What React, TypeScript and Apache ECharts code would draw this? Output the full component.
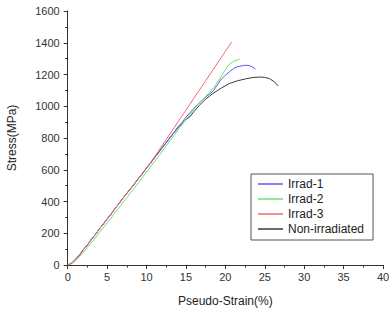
import React, { useEffect, useRef } from "react";
import * as echarts from "echarts";

const xTicks = [0, 5, 10, 15, 20, 25, 30, 35, 40];
const yTicks = [0, 200, 400, 600, 800, 1000, 1200, 1400, 1600];
const seriesNames = ["Irrad-1", "Irrad-2", "Irrad-3", "Non-irradiated"];
const seriesColors = ["#5b5bf0", "#6ee06e", "#f06a6a", "#3a3a3a"];

const irrad1: [number, number][] = [
  [0, 0], [0.5, 10], [1, 36], [1.5, 62], [2, 97], [2.5, 126], [3, 162], [3.5, 190], [4, 227], [4.5, 255],
  [5, 292], [5.5, 318], [6, 357], [6.5, 386], [7, 421], [7.5, 450], [8, 484], [8.5, 512], [9, 547], [9.5, 575],
  [10, 611], [10.5, 640], [11, 676], [11.5, 705], [12, 741], [12.5, 770], [13, 806], [13.5, 835], [14, 871],
  [14.5, 898], [15, 931], [15.5, 958], [16, 987], [16.5, 1012], [17, 1037], [17.5, 1058], [18, 1077],
  [18.5, 1098], [19, 1136], [19.5, 1172], [20, 1195], [20.5, 1216], [21, 1236], [21.5, 1248], [22, 1254],
  [22.5, 1258], [23, 1257], [23.5, 1246], [23.8, 1233],
];
const irrad2: [number, number][] = [
  [0, 0], [0.5, 8], [1, 26], [1.5, 52], [2, 80], [2.5, 110], [3, 140], [3.5, 170], [4, 204], [4.5, 233],
  [5, 266], [5.5, 296], [6, 330], [6.5, 360], [7, 394], [7.5, 424], [8, 456], [8.5, 488], [9, 520], [9.5, 553],
  [10, 586], [10.5, 617], [11, 651], [11.5, 682], [12, 716], [12.5, 750], [13, 785], [13.5, 816], [14, 850],
  [14.5, 883], [15, 916], [15.5, 948], [16, 981], [16.5, 1010], [17, 1036], [17.5, 1062], [18, 1086],
  [18.5, 1116], [19, 1151], [19.5, 1190], [20, 1230], [20.5, 1264], [21, 1282], [21.5, 1292], [21.8, 1296],
];
const irrad3: [number, number][] = [
  [0, 0], [0.5, 11], [1, 35], [1.5, 63], [2, 96], [2.5, 125], [3, 161], [3.5, 191], [4, 226], [4.5, 256],
  [5, 291], [5.5, 320], [6, 356], [6.5, 385], [7, 420], [7.5, 451], [8, 483], [8.5, 514], [9, 546], [9.5, 578],
  [10, 612], [10.5, 645], [11, 680], [11.5, 716], [12, 754], [12.5, 790], [13, 828], [13.5, 864], [14, 902],
  [14.5, 938], [15, 976], [15.5, 1012], [16, 1050], [16.5, 1086], [17, 1124], [17.5, 1160], [18, 1198],
  [18.5, 1234], [19, 1272], [19.5, 1308], [20, 1346], [20.5, 1382], [20.8, 1405],
];
const nonIrradiated: [number, number][] = [
  [0, 0], [0.5, 12], [1, 37], [1.5, 64], [2, 98], [2.5, 127], [3, 160], [3.5, 192], [4, 226], [4.5, 257],
  [5, 290], [5.5, 320], [6, 355], [6.5, 387], [7, 420], [7.5, 452], [8, 482], [8.5, 514], [9, 546], [9.5, 578],
  [10, 610], [10.5, 642], [11, 674], [11.5, 707], [12, 739], [12.5, 771], [13, 803], [13.5, 834], [14, 865],
  [14.5, 891], [15, 915], [15.5, 934], [16, 965], [16.7, 1006], [17.5, 1045], [18.4, 1080], [19.5, 1115],
  [20.5, 1143], [21.5, 1160], [22.7, 1174], [23.5, 1181], [24.3, 1184], [25, 1182], [25.6, 1174],
  [26.2, 1155], [26.7, 1128],
];
const seriesData = [irrad1, irrad2, irrad3, nonIrradiated];

const FONT = "'Liberation Sans', Arial, sans-serif";

export default function App() {
  const ref = useRef<HTMLDivElement>(null);
  useEffect(() => {
    if (!ref.current) return;
    const chart = echarts.init(ref.current, undefined, { renderer: "svg" });
    const axisCommon = {
      axisLine: { show: true, lineStyle: { color: "#333", width: 1 } },
      axisTick: { show: true, inside: false, length: 4, lineStyle: { color: "#333" } },
      minorTick: { show: true, splitNumber: 2, length: 2.5, lineStyle: { color: "#333" } },
      splitLine: { show: false },
      minorSplitLine: { show: false },
    };
    chart.setOption({
      animation: false,
      textStyle: { fontFamily: FONT },
      grid: { left: 67.7, right: 7, top: 11, bottom: 44, containLabel: false, outerBoundsMode: "none" },
      legend: {
        orient: "vertical",
        left: 251,
        top: 174,
        icon: "rect",
        itemWidth: 25,
        itemHeight: 1.5,
        itemGap: 1,
        padding: [3, 9, 4, 7],
        borderColor: "#555",
        borderWidth: 1,
        textStyle: { fontFamily: FONT, fontSize: 12, color: "#222", lineHeight: 14 },
        data: seriesNames,
      },
      xAxis: {
        type: "value",
        min: 0,
        max: 40,
        interval: 5,
        name: "Pseudo-Strain(%)",
        nameLocation: "middle",
        nameGap: 30,
        nameTextStyle: { fontFamily: FONT, fontSize: 12, color: "#222" },
        axisLabel: {
          fontFamily: FONT,
          fontSize: 11,
          color: "#333",
          margin: 6,
          formatter: (v: number) => (xTicks.includes(v) ? String(v) : ""),
        },
        ...axisCommon,
      },
      yAxis: {
        type: "value",
        min: 0,
        max: 1600,
        interval: 200,
        name: "Stress(MPa)",
        nameLocation: "middle",
        nameGap: 50,
        nameTextStyle: { fontFamily: FONT, fontSize: 12, color: "#222" },
        axisLabel: {
          fontFamily: FONT,
          fontSize: 11,
          color: "#333",
          margin: 8,
          formatter: (v: number) => (yTicks.includes(v) ? String(v) : ""),
        },
        ...axisCommon,
      },
      series: seriesNames.map((name, i) => ({
        name,
        type: "line",
        data: seriesData[i],
        symbol: "none",
        smooth: false,
        lineStyle: { color: seriesColors[i], width: 1 },
        itemStyle: { color: seriesColors[i] },
        z: i === 3 ? 1 : 2,
      })),
    });
    return () => chart.dispose();
  }, []);
  return <div ref={ref} style={{ width: 390, height: 309, position: "absolute", left: 0, top: 0, background: "#fff" }} />;
}
